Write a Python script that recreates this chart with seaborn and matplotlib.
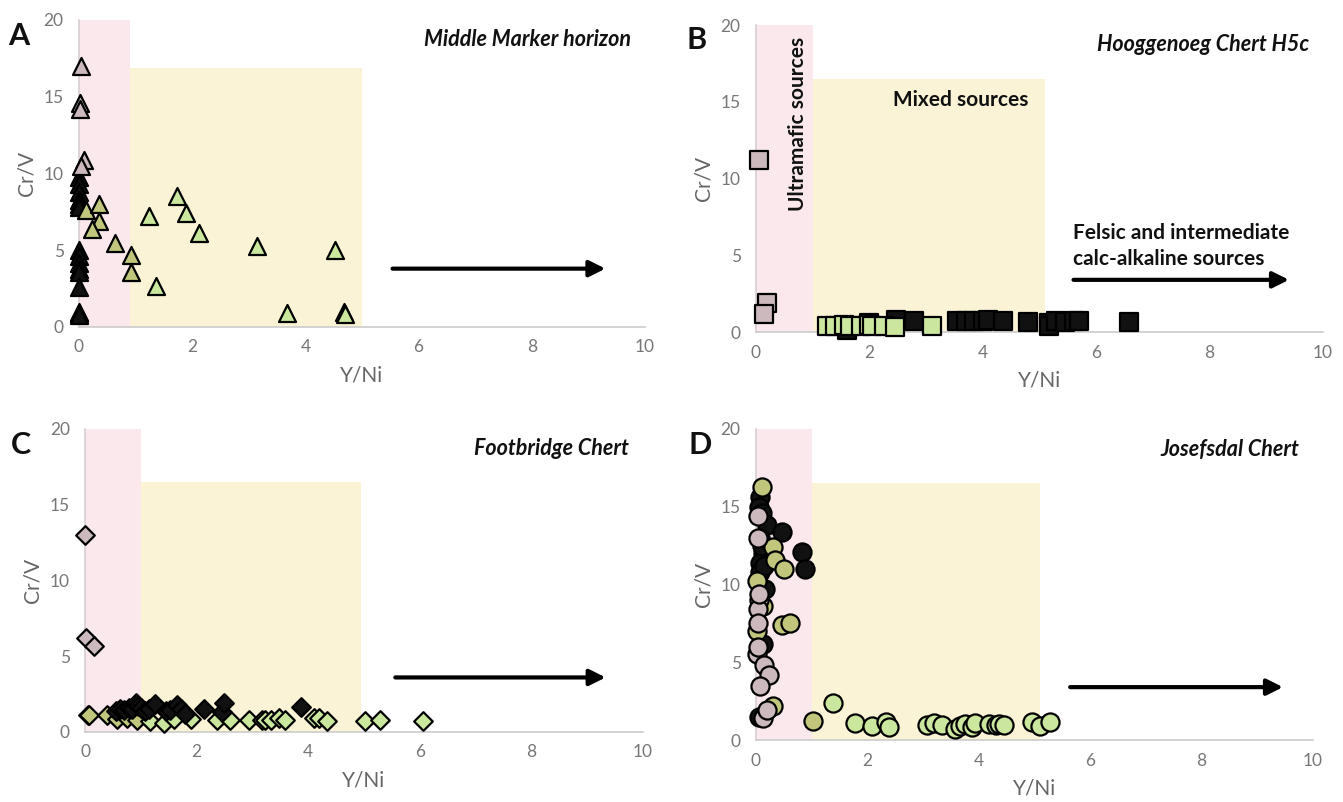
import matplotlib
matplotlib.use("Agg")
import matplotlib.pyplot as plt
from matplotlib.patches import Rectangle
import pandas as pd
import seaborn as sns

sns.set_theme(style="white")
plt.rcParams['font.family'] = ['Lato', 'DejaVu Sans']

# colours of the sample groups
BLACK = "#111111"
GREY = "#cbb9bd"
KHAKI = "#c2c67c"
GREEN = "#cbe79e"
palette = {"black": BLACK, "grey": GREY, "khaki": KHAKI, "green": GREEN}

# ---- A: Middle Marker horizon (triangles) ----
a_black_x = [0, 0, 0, 0, 0, 0, 0, 0, 0, 0, 0, 0, 0, 0, 0]
a_black_y = [9.8, 9.3, 8.8, 8.3, 8.0, 7.8, 5.0, 4.6, 4.2, 3.8, 3.6, 2.6, 1.0, 0.9, 0.8]
a_grey_x = [0.03, 0.02, 0.02, 0.09, 0.03]
a_grey_y = [17.0, 14.6, 14.2, 10.9, 10.5]
a_khaki_x = [0.12, 0.35, 0.35, 0.23, 0.63, 0.92, 0.92]
a_khaki_y = [7.6, 8.0, 6.9, 6.4, 5.5, 4.7, 3.6]
a_green_x = [1.24, 1.74, 1.89, 2.12, 3.15, 4.53, 1.36, 3.67, 4.68, 4.70]
a_green_y = [7.2, 8.5, 7.4, 6.1, 5.3, 5.0, 2.7, 0.9, 0.95, 0.85]

# ---- B: Hooggenoeg Chert H5c (squares) ----
b_grey_x = [0.06, 0.20, 0.15]
b_grey_y = [11.2, 1.9, 1.2]
b_green_x = [1.25, 1.40, 1.55, 1.65, 1.85, 2.00, 2.05, 2.25, 2.45, 3.10]
b_green_y = [0.40, 0.40, 0.45, 0.40, 0.40, 0.45, 0.40, 0.40, 0.35, 0.40]
b_black_x = [1.60, 2.00, 2.47, 2.79, 3.55, 3.70, 3.85, 4.00, 4.10, 4.36,
             4.80, 5.16, 5.16, 5.30, 5.45, 5.60, 5.70, 6.57]
b_black_y = [0.10, 0.60, 0.80, 0.72, 0.70, 0.70, 0.75, 0.75, 0.80, 0.70,
             0.67, 0.60, 0.40, 0.70, 0.65, 0.70, 0.70, 0.67]

# ---- C: Footbridge Chert (diamonds) ----
c_grey_x = [0.00, 0.02, 0.17]
c_grey_y = [13.0, 6.2, 5.7]
c_khaki_x = [0.05, 0.08, 0.39, 0.58, 0.75, 0.94]
c_khaki_y = [1.15, 1.10, 1.10, 0.85, 0.90, 0.80]
c_black_x = [0.55, 0.62, 0.70, 0.78, 0.85, 0.92, 0.95, 1.00, 1.08, 1.15, 1.25,
             1.45, 1.52, 1.64, 1.72, 1.79, 2.13, 2.45, 2.49, 3.87]
c_black_y = [1.40, 1.50, 1.45, 1.60, 1.55, 1.90, 1.70, 1.60, 1.40, 1.50, 1.83,
             1.40, 1.45, 1.76, 1.50, 1.20, 1.50, 1.30, 1.93, 1.63]
c_green_x = [1.17, 1.41, 1.60, 1.90, 2.36, 2.60, 2.93, 3.17, 3.23, 3.34, 3.48,
             3.58, 4.10, 4.20, 4.33, 5.02, 5.29, 6.05]
c_green_y = [0.75, 0.60, 0.85, 0.85, 0.80, 0.80, 0.80, 0.80, 0.80, 0.80, 0.90,
             0.80, 0.95, 0.95, 0.75, 0.70, 0.80, 0.75]

# ---- D: Josefsdal Chert (circles) ----
d_black_x = [0.08, 0.06, 0.10, 0.20, 0.46, 0.08, 0.13, 0.18, 0.08, 0.08, 0.17,
             0.83, 0.88, 0.12, 0.10, 0.05, 0.15]
d_black_y = [15.6, 15.0, 14.6, 13.8, 13.4, 13.0, 12.0, 11.8, 11.4, 10.8, 9.7,
             12.1, 11.0, 6.2, 12.5, 1.5, 11.2]
d_grey_x = [0.03, 0.03, 0.05, 0.04, 0.03, 0.02, 0.15, 0.24, 0.08, 0.12, 0.20,
            0.04, 0.06]
d_grey_y = [14.4, 13.0, 9.0, 8.4, 7.5, 5.5, 4.8, 4.2, 3.5, 1.4, 1.9,
            6.0, 9.4]
d_khaki_x = [0.10, 0.30, 0.34, 0.50, 0.46, 0.61, 0.02, 0.02, 0.30, 1.02, 0.12]
d_khaki_y = [16.3, 12.4, 11.6, 11.0, 7.4, 7.5, 10.2, 7.0, 2.2, 1.25, 8.6]
d_green_x = [1.39, 1.77, 2.08, 2.34, 2.38, 3.07, 3.19, 3.34, 3.58, 3.67, 3.76,
             3.88, 3.94, 4.18, 4.30, 4.36, 4.45, 4.95, 5.10, 5.28]
d_green_y = [2.35, 1.10, 0.90, 1.15, 0.85, 0.95, 1.10, 0.95, 0.70, 0.90, 1.05,
             0.85, 1.10, 1.00, 0.95, 1.00, 0.95, 1.15, 0.90, 1.15]

# shaded source fields: (pink end, yellow end, yellow top)
fields = {"A": (0.9, 5.0, 16.9), "B": (1.0, 5.1, 16.5),
          "C": (1.0, 4.95, 16.5), "D": (1.0, 5.1, 16.5)}
titles = {"A": "Middle Marker horizon", "B": "Hooggenoeg Chert H5c",
          "C": "Footbridge Chert", "D": "Josefsdal Chert"}
arrows = {"A": (5.54, 9.3, 3.8), "B": (5.6, 9.4, 3.4),
          "C": (5.56, 9.33, 3.6), "D": (5.64, 9.46, 3.4)}


def frame(groups):
    rows = []
    for name, xs, ys in groups:
        rows.append(pd.DataFrame({"Y/Ni": xs, "Cr/V": ys, "group": name}))
    return pd.concat(rows, ignore_index=True)


data = {
    "A": (frame([("black", a_black_x, a_black_y), ("grey", a_grey_x, a_grey_y),
                 ("khaki", a_khaki_x, a_khaki_y), ("green", a_green_x, a_green_y)]), "^", 150),
    "B": (frame([("black", b_black_x, b_black_y), ("grey", b_grey_x, b_grey_y),
                 ("green", b_green_x, b_green_y)]), "s", 150),
    "C": (frame([("grey", c_grey_x, c_grey_y), ("khaki", c_khaki_x, c_khaki_y),
                 ("green", c_green_x, c_green_y), ("black", c_black_x, c_black_y)]), "D", 90),
    "D": (frame([("black", d_black_x, d_black_y), ("khaki", d_khaki_x, d_khaki_y),
                 ("grey", d_grey_x, d_grey_y), ("green", d_green_x, d_green_y)]), "o", 170),
}

positions = {"A": [0.0588, 0.5923, 0.4215, 0.3828],
             "B": [0.5629, 0.5860, 0.4222, 0.3828],
             "C": [0.0633, 0.0873, 0.4155, 0.3778],
             "D": [0.5629, 0.0773, 0.4148, 0.3878]}
letter_pos = {"A": (0.006, 0.973), "B": (0.511, 0.967),
              "C": (0.008, 0.462), "D": (0.513, 0.462)}

fig = plt.figure(figsize=(13.43, 8.02), dpi=100)

for key in ["A", "B", "C", "D"]:
    ax = fig.add_axes(positions[key])
    pink_end, yel_end, yel_top = fields[key]
    ax.add_patch(Rectangle((0, 0), pink_end, 20, color="#fbe8ec", zorder=0, lw=0))
    ax.add_patch(Rectangle((pink_end, 0), yel_end - pink_end, yel_top,
                           color="#faf3d6", zorder=0, lw=0))

    df, marker, size = data[key]
    for name in df["group"].unique():
        sub = df[df["group"] == name]
        sns.scatterplot(data=sub, x="Y/Ni", y="Cr/V", color=palette[name],
                        marker=marker, s=size, edgecolor="black", linewidth=1.6,
                        ax=ax, legend=False, zorder=3, clip_on=False)

    x0, x1, ya = arrows[key]
    ax.annotate("", xy=(x1, ya), xytext=(x0, ya),
                arrowprops=dict(arrowstyle="-|>", color="black", lw=3,
                                mutation_scale=24, shrinkA=0, shrinkB=0))

    ax.text(9.75, 18.7, titles[key], ha="right", va="center", fontsize=15.5,
            fontweight="bold", fontstyle="italic", color="#111111")

    if key == "B":
        ax.text(0.74, 19.2, "Ultramafic sources", rotation=90, ha="center", va="top",
                fontsize=15, fontweight="bold", color="#111111")
        ax.text(2.42, 15.1, "Mixed sources", ha="left", va="center",
                fontsize=15, fontweight="bold", color="#111111")
        ax.text(5.59, 6.45, "Felsic and intermediate", ha="left", va="center",
                fontsize=15, fontweight="bold", color="#111111")
        ax.text(5.59, 4.75, "calc-alkaline sources", ha="left", va="center",
                fontsize=15, fontweight="bold", color="#111111")

    ax.set_xlim(0, 10)
    ax.set_ylim(0, 20)
    ax.set_xticks([0, 2, 4, 6, 8, 10])
    ax.set_yticks([0, 5, 10, 15, 20])
    ax.tick_params(length=0, labelsize=12.5, labelcolor="#777777")
    ax.tick_params(axis="x", pad=9)
    ax.tick_params(axis="y", pad=11)
    ax.set_xlabel("Y/Ni", fontsize=15, color="#666666", labelpad=7)
    ax.set_ylabel("Cr/V", fontsize=15, color="#666666", labelpad=5)
    for side in ["top", "right"]:
        ax.spines[side].set_visible(False)
    ax.spines["bottom"].set_color("#cccccc")
    ax.spines["left"].set_color("#d8cfd2")
    ax.spines["bottom"].set_linewidth(1.2)
    ax.set_facecolor("white")

    lx, ly = letter_pos[key]
    fig.text(lx, ly, key, fontsize=22, fontweight="bold", color="#111111",
             ha="left", va="top")

fig.savefig("out.png", dpi=100)
